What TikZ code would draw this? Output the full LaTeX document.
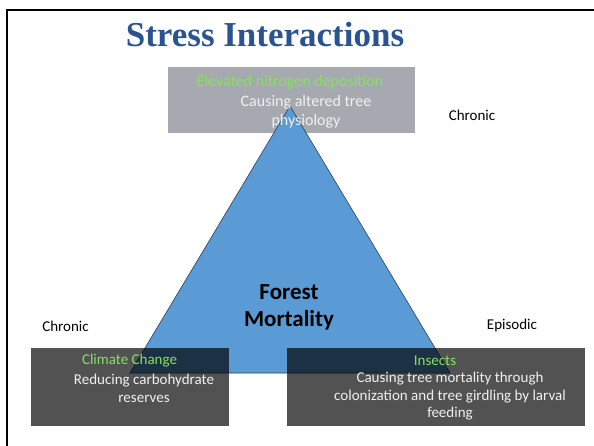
\documentclass[tikz,border=0pt]{standalone}
\usepackage{fontspec}
\setmainfont{Carlito}
\newfontfamily\titlefont{Liberation Serif}
\usetikzlibrary{positioning}
\definecolor{titleblue}{RGB}{41,84,145}
\definecolor{triblue}{RGB}{91,155,213}
\definecolor{triedge}{RGB}{45,62,88}
\definecolor{labelgreen}{RGB}{132,226,92}
\definecolor{topgray}{RGB}{166,170,176}
\definecolor{boxtext}{RGB}{240,240,240}

\begin{document}
\begin{tikzpicture}[x=1pt,y=-1pt,
  boxhead/.style={text=labelgreen,font=\fontsize{15}{18}\selectfont},
  boxbody/.style={text=boxtext,align=center},
  sidelabel/.style={font=\fontsize{15}{18}\selectfont}]
\useasboundingbox (0,0) rectangle (594,446);
\fill[white] (0,0) rectangle (594,446);
\draw[line width=2pt] (7,446) -- (7,10) -- (594,10);
\node[anchor=base,text=titleblue,font=\titlefont\bfseries\fontsize{35}{40}\selectfont] (title) at (265,47) {Stress Interactions};
% top box sits under the triangle
\fill[topgray] (168,67) rectangle (415,133);
\coordinate (apex) at (290,106);
\coordinate (baseL) at (130,373);
\coordinate (baseR) at (450,373);
\filldraw[fill=triblue,draw=triedge,line width=0.6pt] (apex) -- (baseL) -- (baseR) -- cycle;
% lower boxes are see-through
\foreach \xa/\xb in {31/229,287/585}
  \fill[black,fill opacity=0.68] (\xa,348) rectangle (\xb,426);
\node[align=center,font=\bfseries\fontsize{23}{27}\selectfont] (mortality) at (289,307) {Forest\\Mortality};
\node[boxhead,font=\fontsize{16}{19}\selectfont] (nitrogen) at (290,82) {Elevated nitrogen deposition};
\node[boxbody,font=\fontsize{16}{19}\selectfont] (nitrogentxt) at (306,112) {Causing altered tree\\physiology};
\node[boxhead] (climate) at (129.5,361) {Climate Change};
\node[boxbody,font=\fontsize{15}{18}\selectfont] (climatetxt) at (144,388) {Reducing carbohydrate\\reserves};
\node[boxhead] (insects) at (435,361) {Insects};
\node[boxbody,font=\fontsize{15}{17.5}\selectfont] (insectstxt) at (450,396.5) {Causing tree mortality through\\colonization and tree girdling by larval\\feeding};
\node[sidelabel] (chronicT) at (472,115) {Chronic};
\node[sidelabel] (chronicL) at (65.5,326) {Chronic};
\node[sidelabel] (episodic) at (512,326) {Episodic};
\end{tikzpicture}
\end{document}
